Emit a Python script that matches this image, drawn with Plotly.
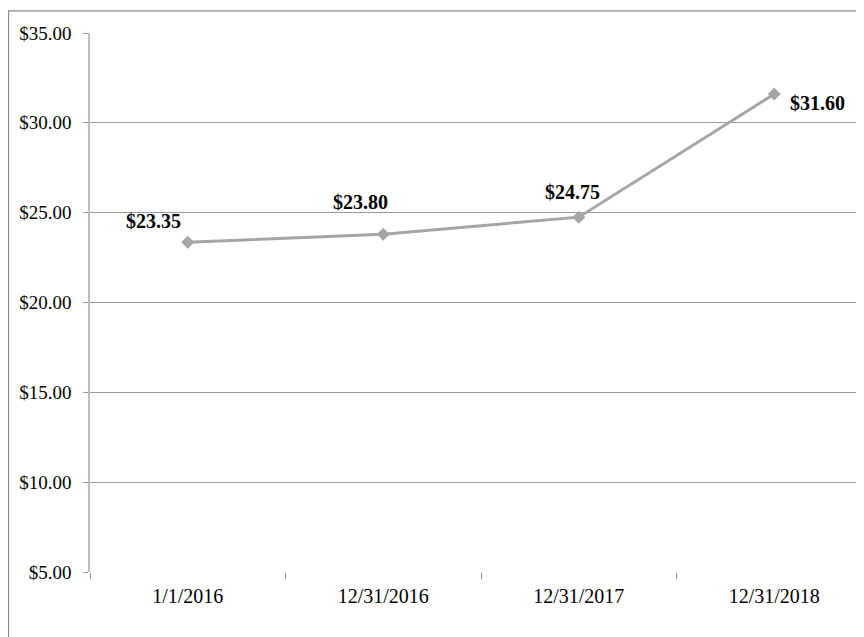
import plotly.graph_objects as go

categories = ["1/1/2016", "12/31/2016", "12/31/2017", "12/31/2018"]
values = [23.35, 23.80, 24.75, 31.60]
labels = ["$23.35", "$23.80", "$24.75", "$31.60"]
y_ticks = [5, 10, 15, 20, 25, 30, 35]
y_tick_text = ["$5.00", "$10.00", "$15.00", "$20.00", "$25.00", "$30.00", "$35.00"]

# label offsets in pixels (ax, ay) relative to each point
label_offsets = [(-34, -21), (-23, -32), (-6, -25), (43, 9)]

fig = go.Figure()
fig.add_trace(go.Scatter(
    x=categories, y=values, mode="lines+markers",
    line=dict(color="#A5A5A5", width=3),
    marker=dict(symbol="diamond", size=10, color="#A5A5A5"),
    hoverinfo="skip", showlegend=False,
))

for i, (c, v, t) in enumerate(zip(categories, values, labels)):
    ax, ay = label_offsets[i]
    fig.add_annotation(
        x=c, y=v, text="<b>" + t + "</b>", showarrow=True, arrowcolor="rgba(0,0,0,0)",
        ax=ax, ay=ay, font=dict(family="Liberation Serif", size=20, color="black"),
    )

# outer chart border
fig.add_shape(type="rect", xref="paper", yref="paper",
              x0=-0.1042, x1=1.05, y0=-0.3, y1=1.041,
              line=dict(color="#8C8C8C", width=1.2), fillcolor="rgba(0,0,0,0)", layer="below")

fig.update_layout(
    width=864, height=637,
    margin=dict(l=82, r=0, t=25, b=73),
    paper_bgcolor="white", plot_bgcolor="white",
    font=dict(family="Liberation Serif", size=20, color="black"),
    xaxis=dict(
        type="category", range=[-0.5, 3.5],
        showgrid=False, zeroline=False, showline=False,
        ticks="outside", tickson="boundaries", ticklen=6, tickcolor="#8C8C8C",
        tickfont=dict(family="Liberation Serif", size=20, color="black"),
        ticklabelstandoff=10,
    ),
    yaxis=dict(
        range=[5, 35], tickmode="array", tickvals=y_ticks, ticktext=y_tick_text,
        showgrid=True, gridcolor="#999999", gridwidth=1.2, zeroline=False,
        showline=True, linecolor="#BFBFBF", linewidth=1.5,
        ticks="outside", ticklen=5, tickcolor="#999999",
        tickfont=dict(family="Liberation Serif", size=19, color="black"),
        ticklabelstandoff=8,
    ),
)

fig.write_html("out.html")
